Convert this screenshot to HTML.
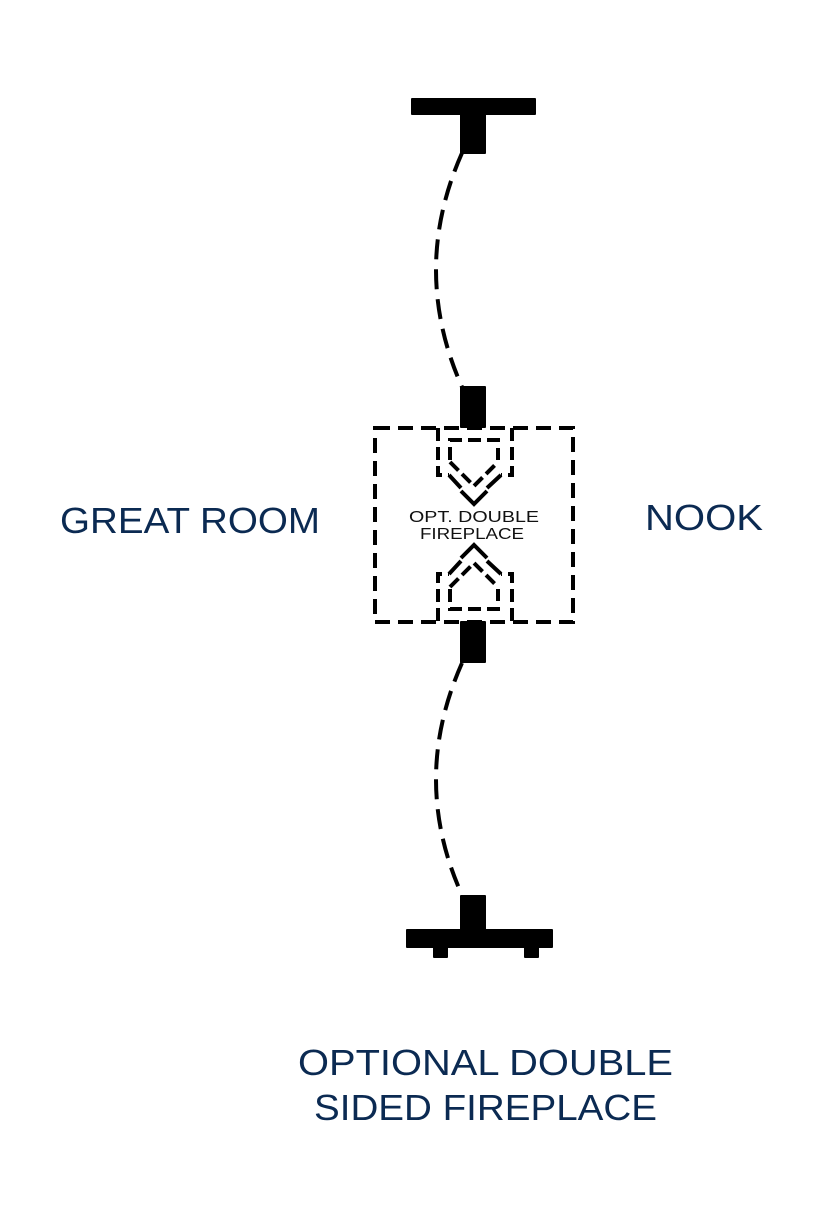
<!DOCTYPE html>
<html><head><meta charset="utf-8"><style>
html,body{margin:0;padding:0;background:#fff;}
svg{display:block}
text{font-family:"Liberation Sans",sans-serif;}
</style></head><body>
<svg width="828" height="1218" viewBox="0 0 828 1218" xmlns="http://www.w3.org/2000/svg">
<g fill="#000">
<rect x="411" y="98" width="125" height="17" rx="1"/>
<rect x="460" y="114" width="26" height="40" rx="1"/>
<rect x="460" y="386" width="26" height="42" rx="1"/>
<rect x="460" y="621" width="26" height="42" rx="1"/>
<rect x="460" y="895" width="26" height="40" rx="1"/>
<rect x="406" y="929" width="147" height="19" rx="1"/>
<rect x="433" y="946" width="15" height="12" rx="1"/>
<rect x="524" y="946" width="15" height="12" rx="1"/>
</g>
<g fill="none" stroke="#000" stroke-width="4">
<path d="M462 153 Q410 270 462 387" stroke-dasharray="20 10"/>
<path d="M462 663 Q410 780 462 895" stroke-dasharray="20 10"/>
<rect x="375" y="428" width="198" height="194" stroke-dasharray="15 8"/>
<!-- top fireplace -->
<path d="M438 428 V475 H449 M512 428 V475 H501" stroke-dasharray="13 6"/>
<path d="M450 460 V440 H498 V460" stroke-dasharray="13 6"/>
<path d="M450 462 L474 486 L498 462" stroke-dasharray="12 5"/>
<path d="M449 475 L461 488 M501 475 L487 488"/>
<path d="M461 491 L474 504 L487 491"/>
<!-- bottom fireplace -->
<path d="M438 621 V574 H449 M512 621 V574 H501" stroke-dasharray="13 6"/>
<path d="M450 589 V609 H498 V589" stroke-dasharray="13 6"/>
<path d="M450 587 L474 563 L498 587" stroke-dasharray="12 5"/>
<path d="M449 574 L461 561 M501 574 L487 561"/>
<path d="M461 558 L474 545 L487 558"/>
</g>
<text x="474" y="522" font-size="16" text-anchor="middle" fill="#111" textLength="130" lengthAdjust="spacingAndGlyphs">OPT. DOUBLE</text>
<text x="472" y="539" font-size="16" text-anchor="middle" fill="#111" textLength="104" lengthAdjust="spacingAndGlyphs">FIREPLACE</text>
<g fill="#0b2a52" font-size="36">
<text x="60" y="533" textLength="260" lengthAdjust="spacingAndGlyphs">GREAT ROOM</text>
<text x="645" y="530" textLength="118" lengthAdjust="spacingAndGlyphs">NOOK</text>
<text x="298" y="1075" textLength="375" lengthAdjust="spacingAndGlyphs">OPTIONAL DOUBLE</text>
<text x="314" y="1120" textLength="343" lengthAdjust="spacingAndGlyphs">SIDED FIREPLACE</text>
</g>
</svg>
</body></html>
